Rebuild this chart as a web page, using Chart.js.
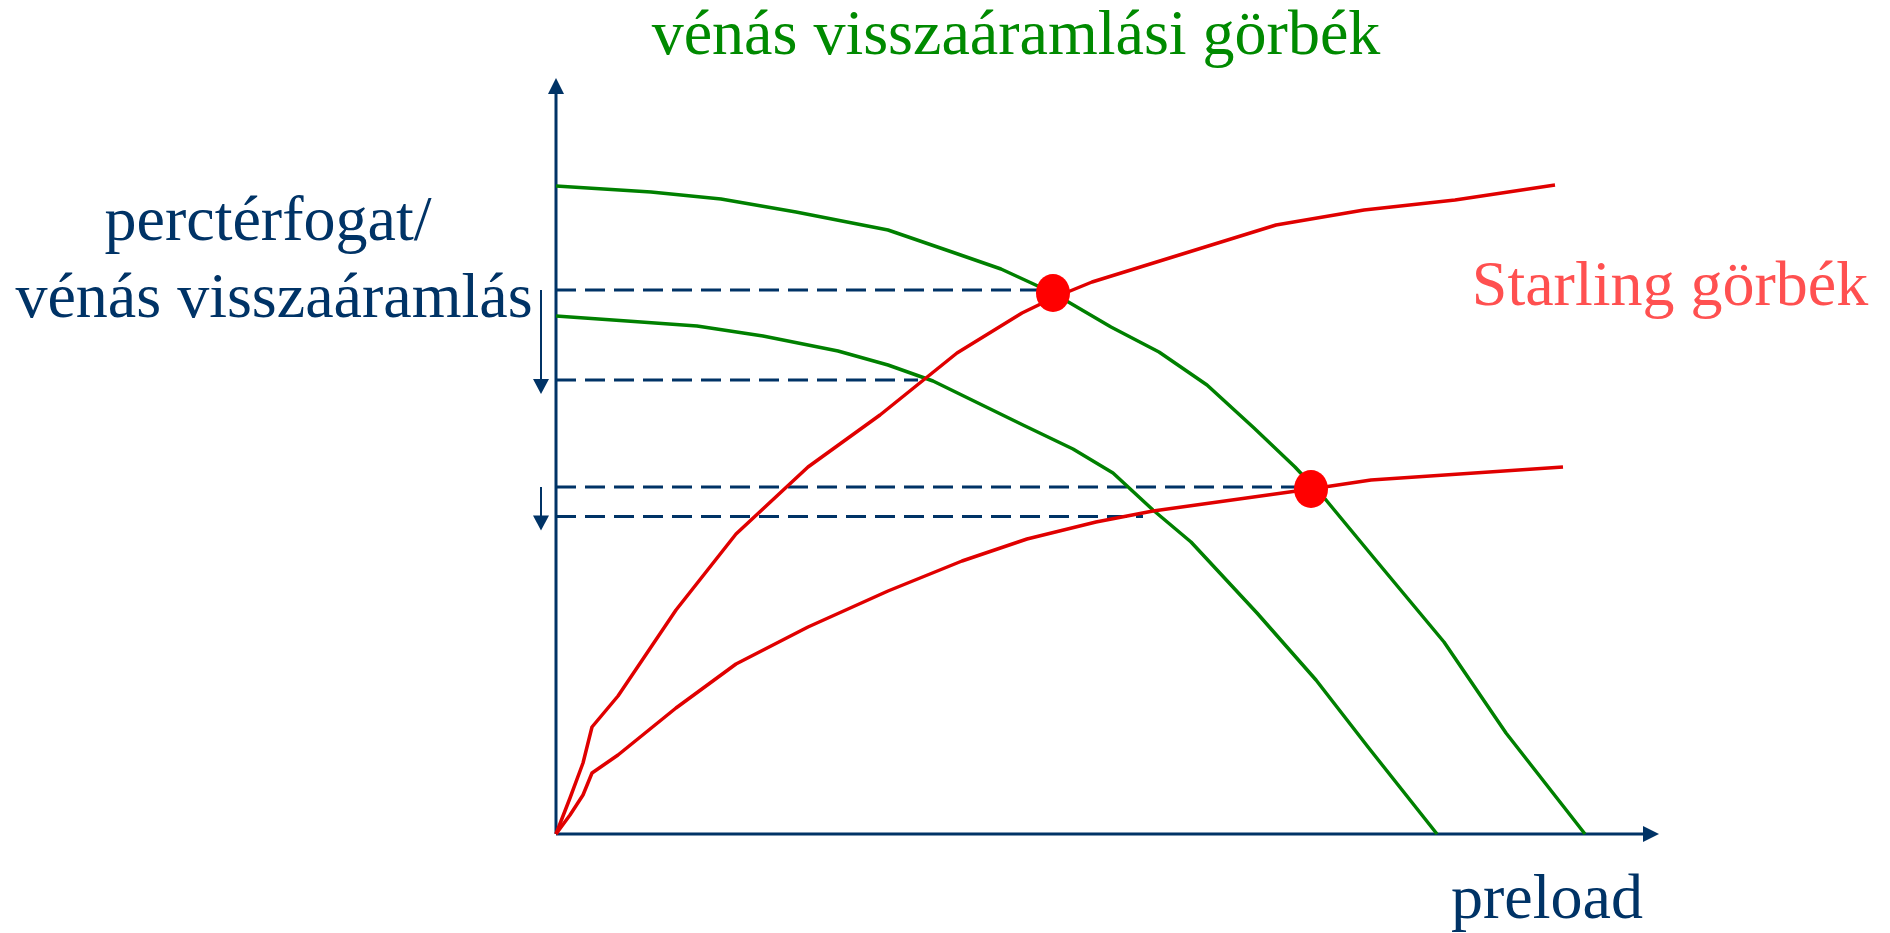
<!DOCTYPE html>
<html>
<head>
<meta charset="utf-8">
<title>vénás visszaáramlási görbék</title>
<script src="https://cdn.jsdelivr.net/npm/chart.js@4.4.1/dist/chart.umd.min.js"></script>
<style>
  html, body { margin: 0; padding: 0; background: #fff; }
  #wrap { position: relative; width: 1890px; height: 933px; }
</style>
</head>
<body>
<div id="wrap"><canvas id="starling"></canvas></div>
<script>
// schematic units (no real scale on the slide): preload on x, output / return on y
const venousHighX = [0, 9.5, 16.5, 24.0, 33.2, 39.6, 44.5, 49.7, 55.5, 60.3, 65.1, 69.8, 73.9, 77.0, 81.8, 88.8, 95.0, 102.9];
const venousHighY = [64.8, 64.2, 63.5, 62.2, 60.4, 58.2, 56.5, 54.1, 50.7, 48.2, 44.9, 40.6, 36.7, 33.4, 27.6, 19.2, 10.1, 0];
const venousLowX = [0, 7.1, 14.1, 20.7, 28.2, 33.2, 37.7, 46.7, 51.7, 55.7, 59.7, 63.5, 70.1, 76.0, 81.2, 88.1];
const venousLowY = [51.8, 51.3, 50.8, 49.8, 48.3, 46.9, 45.3, 40.9, 38.5, 36.1, 32.4, 29.2, 22.1, 15.4, 8.7, 0];
const starlingHighX = [0, 1.4, 2.7, 3.6, 6.2, 12.0, 18.0, 25.2, 32.4, 40.1, 46.6, 49.7, 53.6, 72.0, 80.8, 89.9, 99.9];
const starlingHighY = [0, 3.6, 7.1, 10.7, 13.8, 22.4, 30.0, 36.7, 41.9, 48.1, 52.1, 53.6, 55.2, 60.9, 62.4, 63.4, 64.9];
const starlingLowX = [0, 1.4, 2.7, 3.6, 6.2, 12.0, 18.0, 25.2, 33.2, 40.6, 47.1, 54.0, 59.7, 75.5, 81.5, 100.7];
const starlingLowY = [0, 1.9, 3.9, 6.1, 7.9, 12.6, 17.0, 20.7, 24.3, 27.3, 29.5, 31.2, 32.3, 34.5, 35.4, 36.7];
const equilibriumX = [49.7, 75.5];
const equilibriumY = [54.1, 34.5];
// horizontal dashed levels and where each one stops
const levelY = [54.4, 45.4, 34.7, 31.75];
const levelEndX = [48.4, 36.2, 73.9, 58.7];
// the two "drop" arrows on the left: from level -> to level
const shifts = [[0, 1], [2, 3]];

const navy = '#003366';
const green = '#008000';
const red = '#e00000';

const pts = (xs, ys) => xs.map((v, i) => ({ x: v, y: ys[i] }));

// slightly tall oval marker, like on the slide
const dot = document.createElement('canvas');
dot.width = 34; dot.height = 38;
(function () {
  const c = dot.getContext('2d');
  c.fillStyle = '#ff0000';
  c.beginPath();
  c.ellipse(17, 19, 17, 19, 0, 0, Math.PI * 2);
  c.fill();
})();

function head(ctx, tx, ty, dir, len, wid) {
  ctx.beginPath();
  ctx.moveTo(tx, ty);
  if (dir === 'right') { ctx.lineTo(tx - len, ty - wid / 2); ctx.lineTo(tx - len, ty + wid / 2); }
  if (dir === 'up') { ctx.lineTo(tx - wid / 2, ty + len); ctx.lineTo(tx + wid / 2, ty + len); }
  if (dir === 'down') { ctx.lineTo(tx - wid / 2, ty - len); ctx.lineTo(tx + wid / 2, ty - len); }
  ctx.closePath();
  ctx.fill();
}

const sketch = {
  id: 'sketch',
  beforeDatasetsDraw(chart) {
    const { ctx, scales: { x, y } } = chart;
    const x0 = x.getPixelForValue(0), y0 = y.getPixelForValue(0);
    const xEnd = x.getPixelForValue(x.max), yEnd = y.getPixelForValue(y.max);
    ctx.save();
    ctx.strokeStyle = navy;
    ctx.fillStyle = navy;
    ctx.lineWidth = 3;
    ctx.beginPath();
    ctx.moveTo(x0, y0); ctx.lineTo(xEnd - 14, y0);
    ctx.moveTo(x0, y0); ctx.lineTo(x0, yEnd + 14);
    ctx.stroke();
    head(ctx, xEnd, y0, 'right', 16, 16);
    head(ctx, x0, yEnd, 'up', 16, 16);

    // left arrows
    const ax = x.getPixelForValue(-1.5);
    ctx.lineWidth = 2;
    shifts.forEach(([a, b]) => {
      const from = y.getPixelForValue(levelY[a]);
      const tip = y.getPixelForValue(levelY[b]) + 14;
      ctx.beginPath();
      ctx.moveTo(ax, from); ctx.lineTo(ax, tip - 10);
      ctx.stroke();
      head(ctx, ax, tip, 'down', 15, 16);
    });
    ctx.restore();
  },
  afterDraw(chart) {
    const ctx = chart.ctx;
    ctx.save();
    ctx.font = '64px "Liberation Serif", "Times New Roman", serif';
    ctx.textAlign = 'center';
    ctx.textBaseline = 'alphabetic';
    ctx.fillStyle = '#008a00';
    ctx.fillText('vénás visszaáramlási görbék', 1016, 54);
    ctx.fillStyle = navy;
    ctx.fillText('perctérfogat/', 268, 240);
    ctx.fillText('vénás visszaáramlás', 274, 317);
    ctx.fillText('preload', 1547, 918);
    ctx.fillStyle = '#ff5050';
    ctx.fillText('Starling görbék', 1670, 305);
    ctx.restore();
  }
};

const lineBase = { pointRadius: 0, tension: 0, clip: false, borderCapStyle: 'butt', borderJoinStyle: 'round' };

const datasets = [
  { data: pts(equilibriumX, equilibriumY), showLine: false, pointStyle: dot, pointRadius: 17, clip: false, order: 0 },
  { ...lineBase, data: pts(starlingHighX, starlingHighY), borderColor: red, borderWidth: 3.5, order: 1 },
  { ...lineBase, data: pts(starlingLowX, starlingLowY), borderColor: red, borderWidth: 3.5, order: 1 },
  { ...lineBase, data: pts(venousHighX, venousHighY), borderColor: green, borderWidth: 3.5, order: 2 },
  { ...lineBase, data: pts(venousLowX, venousLowY), borderColor: green, borderWidth: 3.5, order: 2 }
];
levelY.forEach((lv, i) => {
  datasets.push({ ...lineBase, data: [{ x: 0, y: lv }, { x: levelEndX[i], y: lv }], borderColor: navy, borderWidth: 3, borderDash: [20, 9], order: 3 });
});

new Chart(document.getElementById('starling'), {
  type: 'line',
  data: { datasets },
  options: {
    responsive: true,
    maintainAspectRatio: false,
    animation: false,
    events: [],
    layout: { padding: { left: 556, right: 231, top: 78, bottom: 99 } },
    scales: {
      x: { type: 'linear', min: 0, max: 110.3, display: false },
      y: { type: 'linear', min: 0, max: 75.6, display: false }
    },
    plugins: { legend: { display: false }, tooltip: { enabled: false } }
  },
  plugins: [sketch]
});
</script>
</body>
</html>
